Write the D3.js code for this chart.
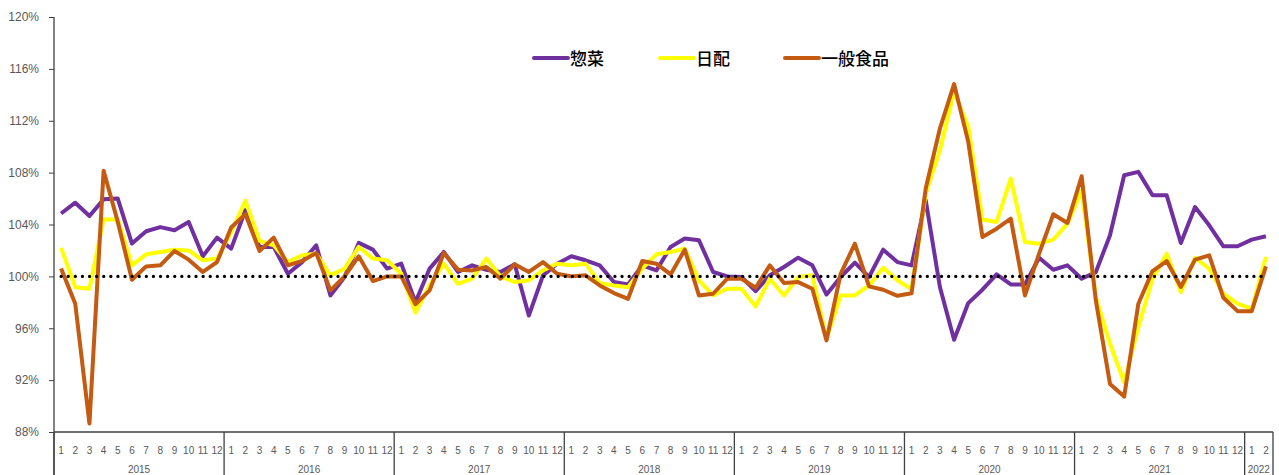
<!DOCTYPE html>
<html>
<head>
<meta charset="utf-8">
<script src="https://cdn.jsdelivr.net/npm/d3@7"></script>
<style>
  html, body { margin: 0; padding: 0; background: #fff; }
  svg { display: block; }
</style>
</head>
<body>
<div id="chart"></div>
<script>
/* monthly ratio vs. previous year, 2015/1 – 2022/2 */
var years       = ['2015', '2016', '2017', '2018', '2019', '2020', '2021', '2022'];
var monthCounts = [12, 12, 12, 12, 12, 12, 12, 2];
var yTicks      = [88, 92, 96, 100, 104, 108, 112, 116, 120];
var seriesNames = ['惣菜', '日配', '一般食品'];

var souzai = [
  104.85, 105.68, 104.65, 105.94, 106.0, 102.53, 103.48, 103.8, 103.56, 104.2, 101.55, 102.99,
  102.14, 105.1, 102.27, 102.27, 100.2, 101.1, 102.4, 98.53, 99.95, 102.58, 102.06, 100.6,
  100.98, 98.0, 100.6, 101.88, 100.34, 100.85, 100.5, 100.34, 100.93, 96.98, 100.08, 100.98,
  101.55, 101.24, 100.85, 99.56, 99.38, 100.85, 100.46, 102.27, 102.92, 102.79, 100.34, 100.0,
  99.95, 98.86, 100.08, 100.72, 101.44, 100.85, 98.6, 99.95, 101.06, 99.95, 102.06, 101.1,
  100.85, 105.87, 99.18, 95.11, 97.94, 98.97, 100.15, 99.38, 99.38, 101.44, 100.51, 100.85,
  99.82, 100.33, 103.17, 107.8, 108.06, 106.25, 106.25, 102.57, 105.35, 103.94, 102.32, 102.32,
  102.83, 103.09
];

var nichihai = [
  102.2, 99.17, 99.05, 104.39, 104.39, 100.85, 101.7, 101.88, 102.06, 102.0, 101.24, 101.37,
  103.4, 105.83, 102.74, 102.4, 101.1, 101.63, 101.75, 100.08, 100.6, 102.27, 101.37, 101.24,
  100.2, 97.2, 99.3, 100.98, 99.43, 99.82, 101.37, 100.0, 99.56, 99.69, 100.46, 100.98,
  100.85, 100.98, 99.48, 99.3, 99.17, 100.6, 101.7, 101.88, 102.14, 99.69, 98.53, 99.05,
  99.05, 97.68, 99.82, 98.53, 99.95, 100.08, 95.2, 98.53, 98.53, 99.3, 100.67, 99.7,
  99.0, 106.38, 109.73, 114.23, 111.53, 104.38, 104.2, 107.54, 102.65, 102.52, 102.83, 104.07,
  106.59, 98.4, 94.8, 91.84, 96.09, 99.82, 101.75, 98.79, 101.44, 100.59, 98.66, 97.89,
  97.5, 101.49
];

var ippan = [
  100.6, 97.88, 88.65, 108.15, 104.2, 99.74, 100.77, 100.85, 101.96, 101.29, 100.34, 101.1,
  103.77, 104.8, 101.96, 102.99, 100.85, 101.19, 101.8, 98.92, 100.0, 101.55, 99.64, 100.0,
  100.0, 97.85, 98.92, 101.8, 100.52, 100.46, 100.72, 99.82, 100.93, 100.34, 101.1, 100.2,
  100.0, 100.08, 99.3, 98.71, 98.27, 101.19, 100.98, 100.15, 102.06, 98.53, 98.66, 99.82,
  99.82, 99.12, 100.85, 99.48, 99.56, 99.05, 95.06, 100.2, 102.52, 99.23, 98.97, 98.5,
  98.7, 106.77, 111.4, 114.83, 110.37, 103.04, 103.68, 104.45, 98.53, 101.75, 104.79, 104.12,
  107.72, 98.15, 91.71, 90.73, 97.89, 100.41, 101.18, 99.18, 101.29, 101.62, 98.35, 97.32,
  97.32, 100.77
];

(function drawChart() {
  var W = 1279, H = 475;
  var left = 54, right = 1273, top = 17, bottom = 432;

  var svg = d3.select('#chart').append('svg')
    .attr('width', W).attr('height', H);

  /* categories: one per month */
  var cats = [], yearStart = [];
  years.forEach(function (yr, k) {
    yearStart.push(cats.length);
    for (var m = 1; m <= monthCounts[k]; m++) cats.push({ year: yr, month: m });
  });

  var x = d3.scaleBand().domain(d3.range(cats.length)).range([left, right]).padding(0);
  var cx = function (i) { return x(i) + x.bandwidth() / 2; };
  var y = d3.scaleLinear().domain([88, 120]).range([bottom, top]);

  var axisFont = '"Liberation Sans", Arial, sans-serif';
  var grey = '#595959';

  /* y axis */
  var yAxis = svg.append('g')
    .attr('transform', 'translate(' + left + ',0)')
    .call(d3.axisLeft(y).tickValues(yTicks).tickSize(5).tickSizeOuter(0).tickPadding(10)
      .tickFormat(function (d) { return d + '%'; }));
  yAxis.select('.domain').remove();
  yAxis.selectAll('line').attr('stroke', '#404040');
  yAxis.selectAll('text').attr('fill', grey).style('font-family', axisFont).style('font-size', '12px');

  svg.append('line')
    .attr('x1', left).attr('y1', top).attr('x2', left).attr('y2', H)
    .attr('stroke', '#404040').attr('stroke-width', 1.3);

  /* x axis: baseline, year separators, labels */
  svg.append('line')
    .attr('x1', left).attr('y1', bottom).attr('x2', right).attr('y2', bottom)
    .attr('stroke', '#404040').attr('stroke-width', 1.3);

  var seps = yearStart.map(function (s) { return x(s); }).concat([right]);
  svg.selectAll('.sep').data(seps).enter().append('line')
    .attr('class', 'sep')
    .attr('x1', function (d) { return d; }).attr('x2', function (d) { return d; })
    .attr('y1', bottom).attr('y2', H)
    .attr('stroke', '#404040').attr('stroke-width', 1.3);

  svg.selectAll('.mlab').data(cats).enter().append('text')
    .attr('class', 'mlab')
    .attr('x', function (d, i) { return cx(i); })
    .attr('y', 450).attr('dy', '0.35em')
    .attr('text-anchor', 'middle')
    .attr('fill', grey)
    .style('font-family', axisFont).style('font-size', '10px')
    .text(function (d) { return d.month; });

  svg.selectAll('.ylab').data(years).enter().append('text')
    .attr('class', 'ylab')
    .attr('x', function (d, k) { return (seps[k] + seps[k + 1]) / 2; })
    .attr('y', 469).attr('dy', '0.35em')
    .attr('text-anchor', 'middle')
    .attr('fill', grey)
    .style('font-family', axisFont).style('font-size', '10px')
    .text(function (d) { return d; });

  /* series lines */
  var colors = ['#7030A0', '#FFFF00', '#C55A11'];
  var series = [souzai, nichihai, ippan];
  var line = d3.line().x(function (d, i) { return cx(i); }).y(function (d) { return y(d); });

  series.forEach(function (vals, k) {
    svg.append('path')
      .datum(vals)
      .attr('d', line)
      .attr('fill', 'none')
      .attr('stroke', colors[k])
      .attr('stroke-width', 4)
      .attr('stroke-linejoin', 'round');
  });

  /* 100% reference, dotted */
  svg.append('path')
    .datum(cats.map(function () { return 100; }))
    .attr('d', line)
    .attr('fill', 'none')
    .attr('stroke', '#000')
    .attr('stroke-width', 3.2)
    .attr('stroke-linecap', 'round')
    .attr('stroke-dasharray', '0.1,7');

  /* legend */
  var legX = [534, 660, 785];
  seriesNames.forEach(function (name, k) {
    svg.append('line')
      .attr('x1', legX[k]).attr('x2', legX[k] + 34)
      .attr('y1', 58).attr('y2', 58)
      .attr('stroke', colors[k]).attr('stroke-width', 4)
      .attr('stroke-linecap', 'round');
    svg.append('text')
      .attr('x', legX[k] + 36).attr('y', 59).attr('dy', '0.35em')
      .attr('fill', '#000')
      .style('font-family', '"Noto Sans CJK JP", sans-serif')
      .style('font-size', '17px')
      .style('font-weight', 500)
      .text(name);
  });
}());
</script>
</body>
</html>
